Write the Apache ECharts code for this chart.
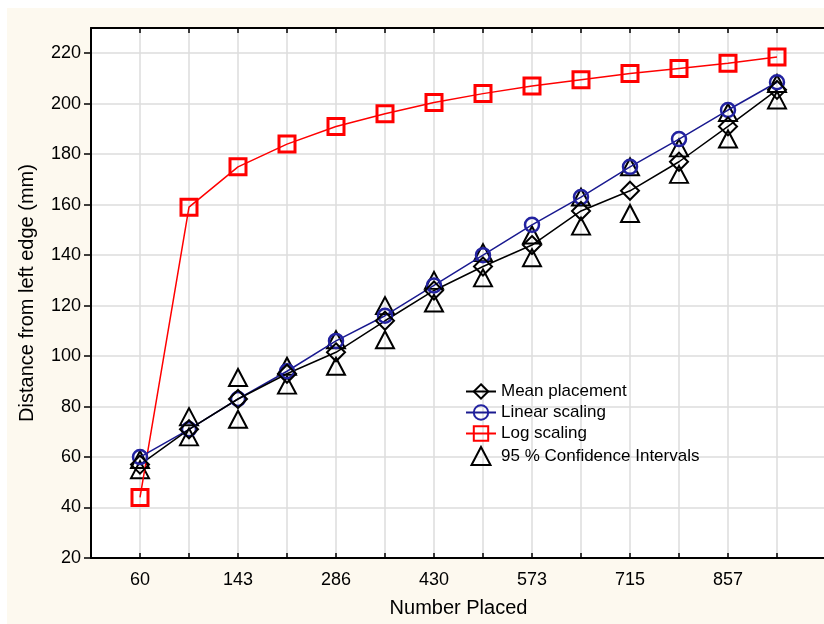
<!DOCTYPE html>
<html>
<head>
<meta charset="utf-8">
<script src="https://cdn.jsdelivr.net/npm/echarts@6/dist/echarts.min.js"></script>
<style>
html, body { margin: 0; padding: 0; background: #fff; }
#chart { position: absolute; left: 7px; top: 8px; width: 817px; height: 616px; }
</style>
</head>
<body>
<div id="chart"></div>
<script>
// x positions are equally spaced; only every other one carries a label
const categories = ['60', '', '143', '', '286', '', '430', '', '573', '', '715', '', '857', '']
const yTicks = [20, 40, 60, 80, 100, 120, 140, 160, 180, 200, 220]

const meanPlacement = [57, 71, 83, 93, 101.5, 114, 126, 135.5, 144, 157.5, 165.5, 177, 191, 205.5]
const linearScaling = [60, 71, 83, 94, 106, 116, 128, 140, 152, 163, 175, 186, 197.5, 208.5]
const logScaling = [44, 159, 175, 184, 191, 196, 200.5, 204, 207, 209.5, 212, 214, 216, 218.5]
const ciUpper = [59, 76, 91.5, 96, 106.5, 120, 130, 141, 148, 163, 175, 182.5, 196.5, 208]
const ciLower = [55, 68, 75, 88.5, 96, 106.5, 121, 131, 139, 151.5, 156.5, 172, 186, 201.5]

const font = 'Arial, "Liberation Sans", sans-serif'
const asPoints = arr => arr.map((v, i) => [i, v])
const ciPoints = asPoints(ciUpper).concat(asPoints(ciLower))

const chart = echarts.init(document.getElementById('chart'))
const xBase = {
  type: 'value',
  min: -1,
  max: 14,
  interval: 1,
  splitLine: { show: false },
  axisLine: { onZero: false, lineStyle: { color: '#000', width: 2 } },
  axisTick: { inside: true, length: 5, lineStyle: { color: '#000', width: 1.5 } }
}
chart.setOption({
  backgroundColor: '#fdf9ef',
  animation: false,
  textStyle: { fontFamily: font },
  grid: {
    left: 84, top: 20, width: 735, height: 530,
    outerBoundsMode: 'none',
    show: true, backgroundColor: '#fff', borderWidth: 0
  },
  legend: {
    orient: 'vertical',
    left: 458,
    top: 375,
    padding: 0,
    itemWidth: 30,
    itemHeight: 18,
    itemGap: 4,
    textStyle: { fontSize: 17, color: '#000', fontFamily: font },
    data: [
      'Mean placement',
      'Linear scaling',
      'Log scaling',
      { name: '95 % Confidence Intervals', icon: 'path://M0,0 M30,18 M15,0 L24.5,18 L5.5,18 Z' }
    ]
  },
  xAxis: [
    Object.assign({}, xBase, {
      position: 'bottom',
      name: 'Number Placed',
      nameLocation: 'middle',
      nameGap: 40,
      nameTextStyle: { fontSize: 20, color: '#000', fontFamily: font },
      splitLine: { show: true, lineStyle: { color: '#dcdcdc', width: 1.5 } },
      axisLabel: {
        fontSize: 18,
        color: '#000',
        margin: 13,
        formatter: v => categories[v] || ''
      }
    }),
    Object.assign({}, xBase, { position: 'top', axisLabel: { show: false } })
  ],
  yAxis: {
    type: 'value',
    min: yTicks[0],
    max: 230,
    interval: 20,
    name: 'Distance from left edge (mm)',
    nameLocation: 'middle',
    nameGap: 54,
    nameTextStyle: { fontSize: 20, color: '#000', fontFamily: font },
    axisLine: { show: true, onZero: false, lineStyle: { color: '#000', width: 2 } },
    axisTick: { show: true, length: 7, lineStyle: { color: '#000', width: 1.5 } },
    axisLabel: {
      fontSize: 18,
      color: '#000',
      margin: 10,
      showMaxLabel: false,
      formatter: v => (yTicks.indexOf(v) >= 0 ? String(v) : '')
    },
    splitLine: { lineStyle: { color: '#dcdcdc', width: 1.5 } }
  },
  series: [
    {
      name: 'Log scaling',
      type: 'line',
      data: asPoints(logScaling),
      symbol: 'rect',
      symbolSize: 16,
      itemStyle: { color: 'transparent', borderColor: '#ff0000', borderWidth: 3 },
      lineStyle: { color: '#ff0000', width: 1.5 }
    },
    {
      name: 'Linear scaling',
      type: 'line',
      data: asPoints(linearScaling),
      symbol: 'circle',
      symbolSize: 14,
      itemStyle: { color: 'transparent', borderColor: '#2222a0', borderWidth: 2.5 },
      lineStyle: { color: '#1a1a90', width: 1.5 }
    },
    {
      name: 'Mean placement',
      type: 'line',
      data: asPoints(meanPlacement),
      symbol: 'diamond',
      symbolSize: 18,
      itemStyle: { color: 'transparent', borderColor: '#000', borderWidth: 2 },
      lineStyle: { color: '#000', width: 1.5 }
    },
    {
      name: '95 % Confidence Intervals',
      type: 'scatter',
      data: ciPoints,
      symbol: 'triangle',
      symbolSize: [18, 17],
      itemStyle: { color: 'transparent', borderColor: '#000', borderWidth: 2, opacity: 1 }
    }
  ]
})
</script>
</body>
</html>
